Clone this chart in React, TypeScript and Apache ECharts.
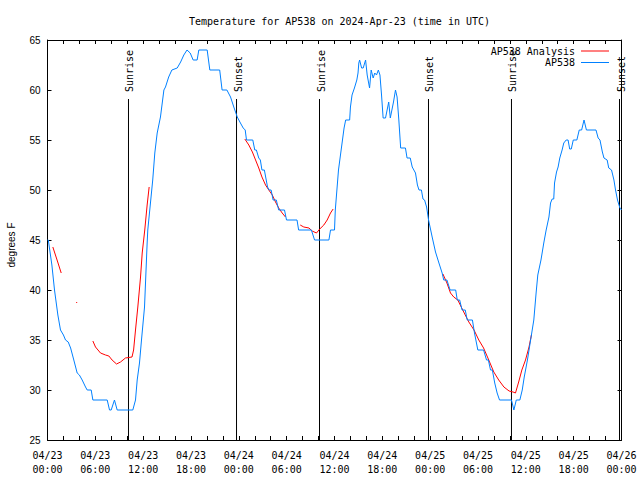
import React, { useEffect, useRef } from "react";
import * as echarts from "echarts";

// Hours since 2024-04-23 00:00 UTC
const obsHours = [
  0, 0.1, 0.55, 0.88, 1.3, 1.63, 2.0, 2.26, 2.6, 2.9, 3.3, 3.72, 4.0, 4.35, 4.77, 4.98, 5.48, 5.69, 7.49, 7.78,
  7.99, 8.4, 8.74, 10.7, 11.04, 11.25, 11.54, 11.79, 12.17, 12.5, 12.58, 13.2, 13.46, 13.76, 14.17, 14.6, 14.8, 15.2, 15.6, 16.27,
  16.7, 17.1, 17.5, 17.9, 18.27, 18.77, 18.98, 20.03, 20.36, 21.6, 21.9, 22.5, 22.96, 23.37, 23.8, 24.2, 24.55, 24.8, 24.96, 25.75,
  26.0, 26.2, 26.5, 26.7, 26.9, 27.2, 27.6, 27.8, 28.05, 28.3, 28.7, 29.0, 29.73, 29.98, 31.3, 31.5, 33.1, 33.5, 35.3, 35.5,
  36.0, 36.1, 36.3, 36.5, 36.75, 37.0, 37.2, 37.4, 37.9, 38.0, 38.2, 38.5, 38.8, 38.95, 39.05, 39.15, 39.4, 39.6, 39.9, 40.1,
  40.4, 40.6, 40.85, 41.05, 41.27, 41.5, 41.7, 41.9, 42.1, 42.4, 42.6, 42.8, 43.0, 43.2, 43.4, 43.65, 43.85, 44.07, 44.3, 44.9,
  45.1, 45.5, 45.75, 46.16, 46.4, 46.6, 46.9, 47.1, 47.3, 47.55, 47.8, 48.25, 48.67, 49.1, 49.5, 49.7, 50.1, 50.5, 51.2, 51.4,
  51.7, 52.0, 52.4, 52.65, 53.3, 53.56, 53.98, 54.7, 55.07, 55.3, 55.57, 55.8, 56.1, 56.4, 56.7, 58.2, 58.5, 58.8, 59.25, 59.55,
  59.8, 60.2, 60.6, 61.0, 61.3, 61.5, 61.9, 62.25, 62.55, 62.9, 63.1, 63.3, 63.5, 63.6, 63.85, 64.05, 64.26, 64.55, 64.76, 65.06,
  65.3, 65.5, 65.7, 65.95, 66.4, 66.7, 67.0, 67.3, 67.6, 68.8, 69.07, 69.3, 69.6, 69.8, 70.2, 70.4, 70.75, 71.05, 71.25, 71.5,
  71.8, 72.0,
];
const obsTemps = [
  45, 45, 42.5, 40, 37.5, 36, 35.5, 35, 34.8, 34.2, 33, 31.7, 31.5, 31, 30.3, 30, 30, 29, 29, 28,
  28, 29, 28, 28, 29, 31, 32.7, 35, 38.3, 44.7, 46, 51, 53.7, 55.7, 57.3, 60, 60.3, 61.3, 62, 62.2,
  62.8, 63.5, 64, 63.7, 63, 63, 64, 64, 62, 62, 60, 60, 59.3, 58.3, 57.3, 56.7, 56.2, 56, 55, 55,
  54, 54, 53.2, 53, 52, 52, 50.3, 50, 50, 49, 49, 48, 48, 47, 47, 46, 46, 45, 45, 46,
  46, 48, 50, 52, 53.5, 55, 56.2, 57, 57, 58.3, 59.5, 60.2, 61, 61.7, 62.7, 63, 62.2, 62.2, 63, 61.5,
  60.2, 62, 61.2, 61.7, 61.5, 62, 61.5, 59.5, 57.2, 57.2, 58, 58.8, 57.2, 58, 58.8, 60, 59.3, 57, 54.2, 54.2,
  53.2, 53.2, 52.3, 51.7, 50.5, 50, 50, 49.1, 49, 48.3, 47, 45.3, 43.8, 42.7, 41.7, 41, 41, 40, 40, 39,
  39, 38, 38, 37, 37, 35.7, 34, 34, 33, 33, 32, 32, 30.7, 29.7, 29, 29, 28, 29, 29, 30,
  31.3, 33, 35, 37, 39.8, 41.5, 43, 44.7, 46, 47.3, 48.7, 49.1, 49.1, 50.7, 51.8, 52.3, 53.2, 54, 54.7, 55,
  55, 54.1, 54.1, 55, 55, 56, 56, 57, 56, 56, 55.2, 55, 53.8, 53.2, 53, 52.2, 52, 51, 50, 49,
  48.2, 48,
];

// null marks a gap in the analysis series
const anaHours = [
  0.67, 1.2, 1.72, 2.5,
  3.6, 3.72, 4.5,
  5.69, 6.02, 6.65, 7.28, 7.7, 8.1, 8.66, 9.16, 9.78, 10.6, 10.8, 11.04, 11.33, 11.67, 11.88, 12.2, 12.5, 12.75, 20,
  24.75, 25.25, 25.7, 26.1, 26.5, 26.9, 27.35, 27.76, 28.2, 28.6, 29.0, 29.44, 29.85, 30.8,
  31.7, 32.15, 32.8, 33.2, 33.74, 34.15, 34.66, 35.08, 35.5, 35.83, 40,
  49.6, 50.1, 50.55, 50.96, 51.47, 51.9, 52.4, 52.85, 53.5, 54.1, 54.7, 55.35, 55.98, 56.6, 57.25, 57.9, 58.4, 58.7, 59.1, 59.5, 59.96, 60.4, 60.7,
];
const anaTemps: (number | null)[] = [
  44.3, 43, 41.7, null,
  38.8, 38.7, null,
  34.9, 34.3, 33.7, 33.5, 33.4, 33, 32.6, 32.8, 33.2, 33.3, 34, 36, 38.3, 41.3, 43.7, 46, 48.5, 50.3, null,
  55.1, 54.5, 53.8, 53, 52.2, 51.3, 50.5, 50, 49.5, 48.8, 48.2, 47.7, 47.3, null,
  46.5, 46.3, 46.2, 45.9, 45.7, 46.1, 46.5, 47, 47.7, 48.1, null,
  41.6, 40.7, 39.7, 39.3, 39, 38.3, 37.5, 36.8, 36, 35, 34.2, 33, 31.8, 31, 30.3, 29.9, 29.8, 29.7, 30.8, 32, 33, 34.3, 35.5,
];

const sunHours = [10.16, 23.71, 34.12, 47.79, 58.2, 71.75];
const sunLabels = ["Sunrise", "Sunset", "Sunrise", "Sunset", "Sunrise", "Sunset"];
const sunLineBottom = 25;
const sunLineTop = 59.1;

const xTickLabels = [
  "04/23\n00:00", "04/23\n06:00", "04/23\n12:00", "04/23\n18:00",
  "04/24\n00:00", "04/24\n06:00", "04/24\n12:00", "04/24\n18:00",
  "04/25\n00:00", "04/25\n06:00", "04/25\n12:00", "04/25\n18:00",
  "04/26\n00:00",
];

const RED = "#ff0000";
const BLUE = "#0080ff";
const MONO = '"DejaVu Sans Mono", monospace';
const SANS = '"Liberation Sans", Arial, sans-serif';

export default function App() {
  const ref = useRef<HTMLDivElement>(null);

  useEffect(() => {
    const chart = echarts.init(ref.current!, null, { renderer: "svg" });

    const obsData = obsHours.map((h, i) => [h, obsTemps[i]]);
    const anaData = anaHours.map((h, i) => [h, anaTemps[i] === null ? "-" : anaTemps[i]]);

    const sunSeries = sunHours.map((h) => ({
      type: "line",
      name: "sun",
      data: [
        [h, sunLineBottom],
        [h, sunLineTop],
      ],
      showSymbol: false,
      symbol: "none",
      silent: true,
      color: "#000",
      lineStyle: { color: "#000", width: 1 },
      z: 1,
    }));

    const axisCommonX = {
      type: "value",
      min: 0,
      max: 72,
      interval: 2,
      splitLine: { show: false },
      axisLine: { show: true, onZero: false, lineStyle: { color: "#000", width: 1 } },
      axisTick: { show: true, inside: true, length: 4, lineStyle: { color: "#000" } },
    };
    const axisCommonY = {
      type: "value",
      min: 25,
      max: 65,
      interval: 5,
      splitLine: { show: false },
      axisLine: { show: true, onZero: false, lineStyle: { color: "#000", width: 1 } },
      axisTick: { show: true, inside: true, length: 4, lineStyle: { color: "#000" } },
    };

    const legendCommon = {
      orient: "horizontal",
      right: 31,
      padding: 0,
      align: "right",
      icon: "rect",
      itemWidth: 28,
      itemHeight: 1,
      selectedMode: false,
      textStyle: {
        fontFamily: MONO,
        fontSize: 10,
        color: "#000",
        lineHeight: 12,
        padding: [0, 1, 0, 0],
      },
    };

    chart.setOption({
      animation: false,
      backgroundColor: "#fff",
      title: {
        text: "Temperature for AP538 on 2024-Apr-23 (time in UTC)",
        left: 184,
        top: 11,
        textStyle: { fontFamily: MONO, fontSize: 10, fontWeight: "normal", color: "#000" },
      },
      legend: [
        {
          ...legendCommon,
          top: 45,
          data: [{ name: "AP538 Analysis", itemStyle: { color: RED, borderWidth: 0 } }],
        },
        {
          ...legendCommon,
          top: 56.5,
          data: [{ name: "AP538", itemStyle: { color: BLUE, borderWidth: 0 } }],
        },
      ],
      grid: { left: 47.5, right: 18.5, top: 40, bottom: 40, containLabel: false },
      xAxis: [
        {
          ...axisCommonX,
          position: "bottom",
          axisLabel: {
            show: true,
            margin: 8,
            fontFamily: MONO,
            fontSize: 10,
            lineHeight: 14,
            color: "#000",
            showMaxLabel: true,
            showMinLabel: true,
            formatter: (v: number) => (v % 6 === 0 ? xTickLabels[v / 6] : ""),
          },
        },
        { ...axisCommonX, position: "top", axisLabel: { show: false } },
      ],
      yAxis: [
        {
          ...axisCommonY,
          position: "left",
          axisLabel: { show: true, margin: 7, fontFamily: SANS, fontSize: 10, color: "#000" },
        },
        { ...axisCommonY, position: "right", axisLabel: { show: false } },
      ],
      series: [
        ...sunSeries,
        {
          type: "line",
          name: "AP538 Analysis",
          data: anaData,
          showSymbol: false,
          symbol: "none",
          connectNulls: false,
          color: RED,
          lineStyle: { color: RED, width: 1 },
          itemStyle: { color: RED },
          z: 2,
        },
        {
          type: "line",
          name: "AP538",
          data: obsData,
          showSymbol: false,
          symbol: "none",
          color: BLUE,
          lineStyle: { color: BLUE, width: 1 },
          itemStyle: { color: BLUE },
          z: 3,
        },
      ],
    });

    const yTopPx = chart.convertToPixel({ yAxisIndex: 0 }, sunLineTop) as number;
    const sunTexts = sunHours.map((h, i) => {
      const x = chart.convertToPixel({ xAxisIndex: 0 }, h) as number;
      return {
        type: "text",
        x: x + 1.5,
        y: yTopPx - 7,
        rotation: Math.PI / 2,
        silent: true,
        style: {
          text: sunLabels[i],
          fontFamily: MONO,
          fontSize: 10,
          fill: "#000",
          textAlign: "left",
          textVerticalAlign: "middle",
          align: "left",
          verticalAlign: "middle",
        },
      };
    });

    chart.setOption({
      graphic: [
        ...sunTexts,
        {
          type: "text",
          x: 11,
          y: 245,
          rotation: Math.PI / 2,
          silent: true,
          style: {
            text: "degrees F",
            fontFamily: SANS,
            fontSize: 10,
            fill: "#000",
            textAlign: "center",
            textVerticalAlign: "middle",
            align: "center",
            verticalAlign: "middle",
          },
        },
      ],
    });

    return () => chart.dispose();
  }, []);

  return (
    <div
      ref={ref}
      style={{ position: "fixed", left: 0, top: 0, width: 640, height: 480 }}
    />
  );
}
